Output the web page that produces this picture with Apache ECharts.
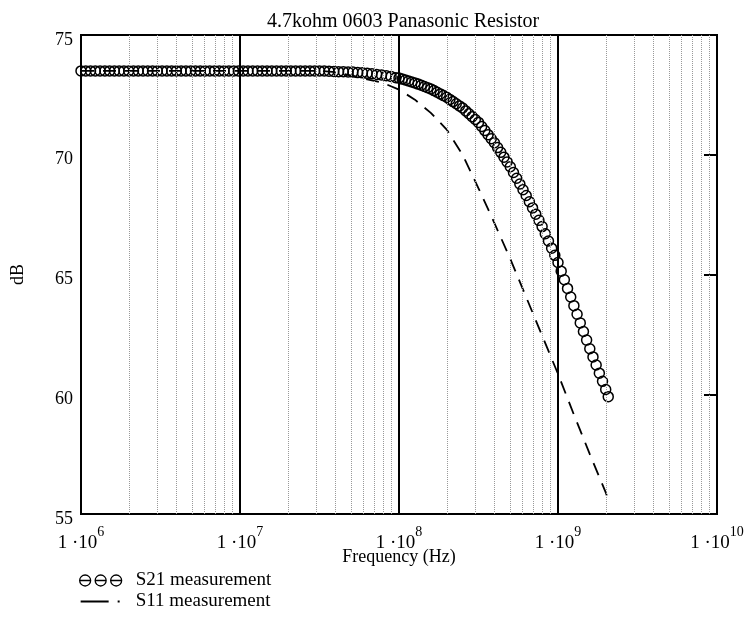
<!DOCTYPE html>
<html>
<head>
<meta charset="utf-8">
<script src="https://cdn.jsdelivr.net/npm/echarts@6/dist/echarts.min.js"></script>
<style>
html,body{margin:0;padding:0;background:#fff;}
#chart{width:744px;height:617px;}
</style>
</head>
<body>
<div id="chart"></div>
<script>
const chartTitle = '4.7kohm 0603 Panasonic Resistor';
const xAxisName = 'Frequency (Hz)';
const yAxisName = 'dB';
const xTickExps = [6, 7, 8, 9, 10];
const yTicks = [55, 60, 65, 70, 75];
const minorGridHz = [
  2e6, 3e6, 4e6, 5e6, 6e6, 7e6, 8e6, 9e6,
  2e7, 3e7, 4e7, 5e7, 6e7, 7e7, 8e7, 9e7,
  2e8, 3e8, 4e8, 5e8, 6e8, 7e8, 8e8, 9e8,
  2e9, 3e9, 4e9, 5e9, 6e9, 7e9, 8e9, 9e9
];

// S21: frequency as log10(Hz), and dB
const s21FreqExp = [
  6.00, 6.03, 6.06, 6.09, 6.12, 6.15, 6.18, 6.21, 6.24, 6.27,
  6.30, 6.33, 6.36, 6.39, 6.42, 6.45, 6.48, 6.51, 6.54, 6.57,
  6.60, 6.63, 6.66, 6.69, 6.72, 6.75, 6.78, 6.81, 6.84, 6.87,
  6.90, 6.93, 6.96, 6.99, 7.02, 7.05, 7.08, 7.11, 7.14, 7.17,
  7.20, 7.23, 7.26, 7.29, 7.32, 7.35, 7.38, 7.41, 7.44, 7.47,
  7.50, 7.53, 7.56, 7.59, 7.62, 7.65, 7.68, 7.71, 7.74, 7.77,
  7.80, 7.83, 7.86, 7.89, 7.92, 7.95, 7.98,
  8.00, 8.02, 8.04, 8.06, 8.08, 8.10, 8.12, 8.14, 8.16, 8.18,
  8.20, 8.22, 8.24, 8.26, 8.28, 8.30, 8.32, 8.34, 8.36, 8.38,
  8.40, 8.42, 8.44, 8.46, 8.48, 8.50, 8.52, 8.54, 8.56, 8.58,
  8.60, 8.62, 8.64, 8.66, 8.68, 8.70, 8.72, 8.74, 8.76, 8.78,
  8.80, 8.82, 8.84, 8.86, 8.88, 8.90, 8.92, 8.94, 8.96, 8.98,
  9.00, 9.02, 9.04, 9.06, 9.08, 9.10, 9.12, 9.14, 9.16, 9.18,
  9.20, 9.22, 9.24, 9.26, 9.28, 9.30, 9.316
];
const s21dB = [
  73.50, 73.50, 73.50, 73.50, 73.50, 73.50, 73.50, 73.50, 73.50, 73.50,
  73.50, 73.50, 73.50, 73.50, 73.50, 73.50, 73.50, 73.50, 73.50, 73.50,
  73.50, 73.50, 73.50, 73.50, 73.50, 73.50, 73.50, 73.50, 73.50, 73.50,
  73.50, 73.50, 73.50, 73.50, 73.50, 73.50, 73.50, 73.50, 73.50, 73.50,
  73.50, 73.50, 73.50, 73.50, 73.50, 73.50, 73.50, 73.50, 73.50, 73.50,
  73.50, 73.50, 73.49, 73.48, 73.47, 73.47, 73.46, 73.45, 73.43, 73.42,
  73.40, 73.38, 73.35, 73.33, 73.30, 73.27, 73.22,
  73.20, 73.16, 73.12, 73.08, 73.04, 73.00, 72.95, 72.90, 72.85, 72.80,
  72.75, 72.68, 72.61, 72.54, 72.47, 72.40, 72.31, 72.22, 72.13, 72.04,
  71.95, 71.83, 71.71, 71.59, 71.47, 71.35, 71.18, 71.01, 70.84, 70.67,
  70.50, 70.30, 70.10, 69.90, 69.70, 69.50, 69.26, 69.02, 68.78, 68.54,
  68.30, 68.04, 67.78, 67.52, 67.26, 67.00, 66.70, 66.40, 66.10, 65.80,
  65.50, 65.14, 64.78, 64.42, 64.06, 63.70, 63.34, 62.98, 62.62, 62.26,
  61.90, 61.56, 61.22, 60.88, 60.54, 60.20, 59.90
];

// S11
const s11FreqExp = [6.0, 7.0, 7.5, 7.6, 7.7, 7.8, 7.9, 8.0, 8.1, 8.2, 8.3, 8.4, 8.5, 8.6, 8.7, 8.8, 8.9, 9.0, 9.1, 9.2, 9.3, 9.316];
const s11dB = [73.5, 73.5, 73.5, 73.45, 73.3, 73.15, 73.0, 72.72, 72.3, 71.75, 71.05, 70.0, 68.6, 67.15, 65.65, 64.05, 62.45, 60.85, 59.15, 57.5, 55.9, 55.6];

const seriesNames = ['S21 measurement', 'S11 measurement'];

const FONT = 'Liberation Serif';
const toHz = e => Math.pow(10, e);
const s21Data = s21FreqExp.map((e, i) => [toHz(e), s21dB[i]]);
const s11Data = s11FreqExp.map((e, i) => [toHz(e), s11dB[i]]);

const iconS21 = 'path://M1,6A5.5,5.5,0,1,1,12,6A5.5,5.5,0,1,1,1,6Z M1,6L12,6 M16.5,6A5.5,5.5,0,1,1,27.5,6A5.5,5.5,0,1,1,16.5,6Z M16.5,6L27.5,6 M32,6A5.5,5.5,0,1,1,43,6A5.5,5.5,0,1,1,32,6Z M32,6L43,6 M0,0 M44,12';
const iconS11 = 'path://M0,0 M44,12 M2,5L30,5L30,7L2,7Z M39,5L41,5L41,7L39,7Z';

const chart = echarts.init(document.getElementById('chart'), null, {renderer: 'canvas'});
chart.setOption({
  animation: false,
  backgroundColor: '#fff',
  title: {
    text: chartTitle,
    left: 262,
    top: 7,
    textStyle: {fontFamily: FONT, fontSize: 20, fontWeight: 'normal', color: '#000'}
  },
  legend: {
    orient: 'vertical',
    left: 78,
    top: 571,
    padding: 0,
    itemWidth: 44,
    itemHeight: 12,
    itemGap: 2,
    selectedMode: false,
    textStyle: {fontFamily: FONT, fontSize: 19, color: '#000', lineHeight: 19, padding: [0, 0, 0, 8]},
    data: [
      {name: seriesNames[0], icon: iconS21, itemStyle: {color: 'rgba(0,0,0,0)', borderColor: '#000', borderWidth: 1.3}},
      {name: seriesNames[1], icon: iconS11, itemStyle: {color: '#000', borderWidth: 0}}
    ]
  },
  grid: {
    left: 81, right: 27, top: 35, bottom: 103,
    outerBoundsMode: 'none',
    containLabel: false,
    show: true, borderColor: '#000', borderWidth: 2, backgroundColor: 'transparent'
  },
  xAxis: {
    type: 'log',
    logBase: 10,
    min: toHz(xTickExps[0]),
    max: toHz(xTickExps[xTickExps.length - 1]),
    name: xAxisName,
    nameLocation: 'middle',
    nameGap: 34,
    nameMoveOverlap: false,
    nameTextStyle: {fontFamily: FONT, fontSize: 18, color: '#000'},
    axisLine: {show: false},
    axisTick: {show: false},
    splitLine: {show: true, lineStyle: {color: '#000', width: 2}},
    axisLabel: {
      margin: 11,
      showMinLabel: true,
      showMaxLabel: true,
      hideOverlap: false,
      formatter: v => '{a|1 ·10}{b|' + Math.round(Math.log10(v)) + '}',
      rich: {
        a: {fontFamily: FONT, fontSize: 19, color: '#000', lineHeight: 28, verticalAlign: 'bottom'},
        b: {fontFamily: FONT, fontSize: 14, color: '#000', lineHeight: 14, verticalAlign: 'top'}
      }
    }
  },
  yAxis: [{
    type: 'value',
    min: yTicks[0],
    max: yTicks[yTicks.length - 1],
    interval: 5,
    name: yAxisName,
    nameLocation: 'middle',
    nameGap: 54,
    nameMoveOverlap: false,
    nameTextStyle: {fontFamily: FONT, fontSize: 18, color: '#000'},
    axisLine: {show: false},
    axisTick: {show: false},
    splitLine: {show: false},
    axisLabel: {fontFamily: FONT, fontSize: 18, color: '#000', margin: 8, verticalAlign: 'top', lineHeight: 10}
  }, {
    type: 'value',
    position: 'right',
    min: yTicks[0],
    max: yTicks[yTicks.length - 1],
    interval: 5,
    axisLine: {show: false},
    axisTick: {show: true, inside: true, length: 13, lineStyle: {color: '#000', width: 2}},
    axisLabel: {show: false},
    splitLine: {show: false}
  }],
  series: [{
    name: seriesNames[0],
    type: 'scatter',
    data: s21Data,
    symbol: 'circle',
    symbolSize: 10,
    z: 4,
    itemStyle: {color: 'rgba(0,0,0,0)', borderColor: '#000', borderWidth: 1.5, opacity: 1},
    emphasis: {disabled: true}
  }, {
    name: seriesNames[1],
    type: 'line',
    data: s11Data,
    showSymbol: false,
    z: 3,
    lineStyle: {color: '#000', width: 1.8, type: [13, 9]},
    itemStyle: {color: '#000'},
    emphasis: {disabled: true},
    markLine: {
      silent: true,
      symbol: ['none', 'none'],
      label: {show: false},
      lineStyle: {color: '#999', width: 1, type: 'dotted'},
      emphasis: {disabled: true},
      data: minorGridHz.map(v => ({xAxis: v}))
    }
  }]
});
</script>
</body>
</html>
